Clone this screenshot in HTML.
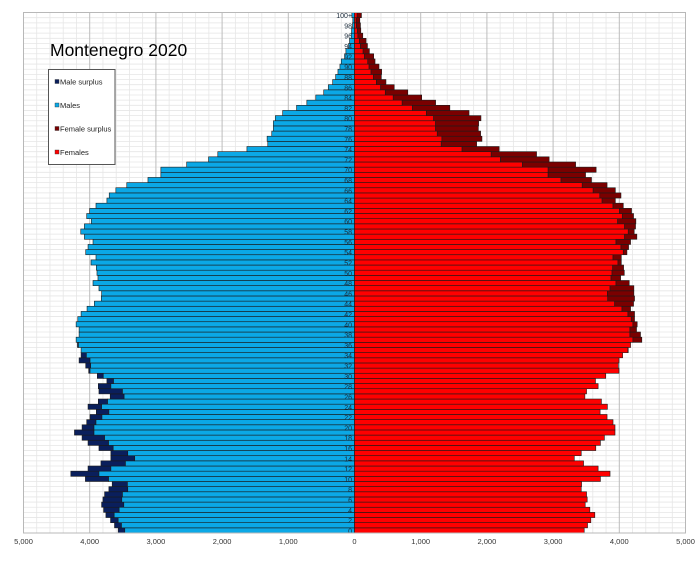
<!DOCTYPE html>
<html><head><meta charset="utf-8"><style>
body{margin:0;background:#fff;}
svg{display:block;font-family:"Liberation Sans",sans-serif;}
</style></head><body>
<svg id="chart" width="700" height="562" viewBox="0 0 700 562" xmlns="http://www.w3.org/2000/svg">
<rect x="0" y="0" width="700" height="562" fill="#fff"/>
<g id="grid"></g>
<g id="bars"></g>
<g id="agelabels"></g>
<rect x="23.5" y="12.5" width="662" height="520.5" fill="none" stroke="#b8b8b8" stroke-width="1"/>
<g id="xticks"></g>
<text x="50" y="56" font-size="17.5" fill="#000">Montenegro 2020</text>
<g>
<rect x="48.5" y="69.5" width="66.5" height="95" fill="#fff" stroke="#555" stroke-width="1"/>
<g><rect x="55" y="79.5" width="4" height="4" fill="#0a1f5c" stroke="#333" stroke-width="0.4"/><text x="60" y="84.5" font-size="7.5" fill="#222">Male surplus</text></g>
<g><rect x="55" y="103" width="4" height="4" fill="#0ba8e6" stroke="#333" stroke-width="0.4"/><text x="60" y="108" font-size="7.5" fill="#222">Males</text></g>
<g><rect x="55" y="126.5" width="4" height="4" fill="#7a0000" stroke="#333" stroke-width="0.4"/><text x="60" y="131.5" font-size="7.5" fill="#222">Female surplus</text></g>
<g><rect x="55" y="150" width="4" height="4" fill="#ff0000" stroke="#333" stroke-width="0.4"/><text x="60" y="155" font-size="7.5" fill="#222">Females</text></g>
</g>
</svg>
<script>
const ages = Array.from({length:101},(_,i)=>i);
const males = [3570,3625,3685,3755,3790,3820,3800,3775,3710,3660,
4065,4285,4025,3830,3680,3680,3860,4025,4115,4230,
4115,4045,3995,3900,4025,3870,3690,3860,3870,3740,
3885,4015,4060,4160,4130,4130,4185,4205,4160,4160,
4205,4180,4130,4040,3930,3825,3820,3860,3950,3875,
3890,3900,3980,3905,4060,4025,3950,4080,4135,4080,
3975,4045,4000,3905,3740,3705,3605,3440,3120,2925,
2925,2535,2205,2065,1625,1310,1320,1250,1225,1225,
1195,1085,875,720,585,465,395,330,285,250,
220,200,150,130,90,75,50,45,30,25,40];
const females = [3470,3520,3570,3630,3555,3485,3515,3505,3425,3430,
3715,3860,3680,3460,3320,3425,3645,3715,3775,3935,
3935,3905,3815,3710,3820,3730,3480,3505,3680,3640,
3795,3995,3985,3995,4050,4135,4170,4340,4320,4260,
4270,4230,4230,4170,4215,4230,4220,4220,4150,4020,
4075,4065,4030,4030,4115,4140,4170,4265,4225,4245,
4250,4215,4185,4060,3940,4025,3940,3815,3580,3490,
3650,3340,2940,2750,2185,1845,1925,1905,1870,1875,
1910,1730,1440,1225,1015,805,600,475,405,410,
370,310,290,225,195,175,125,95,90,80,105];
const xTickValues = [-5000,-4000,-3000,-2000,-1000,0,1000,2000,3000,4000,5000];
const xTickLabels = ["5,000","4,000","3,000","2,000","1,000","0","1,000","2,000","3,000","4,000","5,000"];

const NS="http://www.w3.org/2000/svg";
const X0=354.5, K=0.0662, BOT=533, ROW=5.153;
const xs=v=>X0+v*K;
const yTop=a=>BOT-(a+1)*ROW;
function mk(tag,attrs,parent){const e=document.createElementNS(NS,tag);for(const k in attrs)e.setAttribute(k,attrs[k]);parent.appendChild(e);return e;}
const grid=document.getElementById('grid');
for(let i=0;i<=ages.length;i++){
  const y=BOT-i*ROW;
  const l=mk('line',{x1:23.5,x2:685.5,y1:y,y2:y,stroke:'#e6e6e6','stroke-width':0.8},grid);
  
  
}
for(let v=-5000;v<=5000;v+=200){
  const major=v%1000===0;
  const l=mk('line',{x1:xs(v),x2:xs(v),y1:12.5,y2:BOT,stroke:major?'#bdbdbd':'#e6e6e6','stroke-width':major?1:0.8},grid);
  
  
}
const bars=document.getElementById('bars');
ages.forEach((a,i)=>{
  const m=males[i], f=females[i], mn=Math.min(m,f);
  const y=yTop(a), h=ROW;
  const st={stroke:'#1a1a1a','stroke-width':0.6};
  if(m>f){
    const s=mk('rect',Object.assign({x:xs(-m),y:y,width:(m-mn)*K,height:h,fill:'#0a1f5c'},st),bars);
    
    
  }
  const mb=mk('rect',Object.assign({x:xs(-mn),y:y,width:mn*K,height:h,fill:'#0ba8e6'},st),bars);
  
  
  const fb=mk('rect',Object.assign({x:X0,y:y,width:mn*K,height:h,fill:'#ff0000'},st),bars);
  
  
  if(f>m){
    const s=mk('rect',Object.assign({x:xs(mn),y:y,width:(f-mn)*K,height:h,fill:'#7a0000'},st),bars);
    
    
  }
});
const al=document.getElementById('agelabels');
ages.forEach(a=>{
  if(a%2!==0)return;
  const t=mk('text',{x:352,y:yTop(a)+ROW/2+3,'font-size':7,'text-anchor':'end',fill:'#1a2a3a'},al);
  t.textContent=a===100?'100+':String(a);
  
  
});
const xt=document.getElementById('xticks');
xTickValues.forEach((v,i)=>{
  const t=mk('text',{x:xs(v),y:544,'font-size':7.5,'text-anchor':'middle',fill:'#333'},xt);
  t.textContent=xTickLabels[i];
  
  
});
</script>
</body></html>
